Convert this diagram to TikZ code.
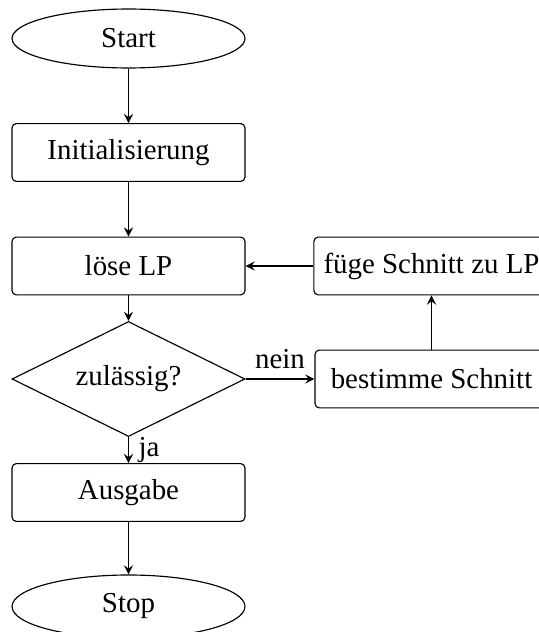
\documentclass[tikz,border=0pt]{standalone}
\usepackage{fontspec}
\setmainfont{Liberation Serif}
\usetikzlibrary{shapes.geometric,arrows}

\begin{document}
\begin{tikzpicture}[x=0.346pt,y=-0.346pt,>=stealth]

\tikzstyle{terminal}=[ellipse,draw,minimum width=80.6pt,minimum height=20.4pt]
\tikzstyle{block}=[rectangle,draw,rounded corners=1.5pt,minimum width=80.6pt,minimum height=20pt]
\tikzstyle{decision}=[diamond,draw,aspect=2,inner sep=0pt,minimum width=80.6pt,minimum height=39.8pt]
\useasboundingbox (0,0) rectangle (539,632);
\node[terminal] (start) at (128.5,38.5) {Start};
\node[block] (init) at (128.5,152.5) {Initialisierung};
\node[block] (solve) at (128.5,266) {löse LP};
\node[decision] (feasible) at (128.5,379) {zulässig?};
\node[block] (output) at (128.5,492.5) {Ausgabe};
\node[terminal] (stop) at (128.5,606.5) {Stop};

\node[block] (cut) at (431.5,379) {bestimme Schnitt};
\node[block] (addcut) at (431.5,266) {füge Schnitt zu LP};

\draw[->] (start) -- (init);
\draw[->] (init) -- (solve);
\draw[->] (solve) -- (feasible);
\draw[->] (feasible) -- node[above] {nein} (cut);
\draw[->] (cut) -- (addcut);
\draw[->] (addcut) -- (solve);
\draw[->] (feasible) -- node[right] {ja} (output);
\draw[->] (output) -- (stop);
\end{tikzpicture}
\end{document}
